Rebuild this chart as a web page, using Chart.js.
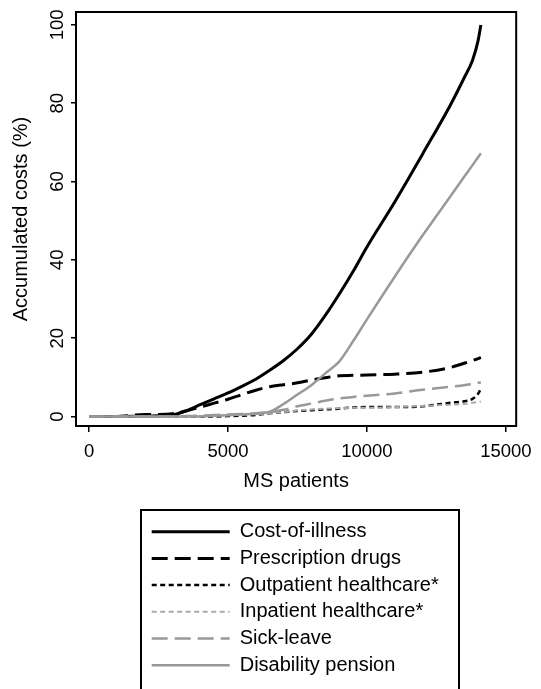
<!DOCTYPE html>
<html lang="en">
<head>
    <meta charset="UTF-8">
    <title>Accumulated costs by MS patients</title>
    <script src="https://cdn.jsdelivr.net/npm/chart.js@4.4.1/dist/chart.umd.min.js"></script>
    <style>
        body { margin: 0; background: #fff; }
        .chart-box { width: 541px; height: 689px; position: relative; }
    </style>
</head>
<body>
    <div class="chart-box"><canvas id="chart"></canvas></div>

    <script>
        // values
        const patients = [0, 1000, 2000, 2500, 3000, 3500, 4000, 4500, 5000, 5500, 6000, 6500, 7000,
                          7500, 8000, 8500, 9000, 9500, 10000, 11000, 12000, 13000, 13500, 13800, 14000, 14100];
        const costOfIllness = [0, 0, 0.1, 0.2, 0.4, 1.5, 3.0, 4.5, 6.0, 7.7, 9.5, 11.8, 14.3,
                               17.3, 21, 25.8, 31.2, 37, 43.3, 54.8, 67, 79.5, 86.5, 91, 96, 100];
        const prescriptionDrugs = [0, 0, 0.5, 0.5, 0.7, 1.4, 2.4, 3.4, 4.4, 5.6, 6.7, 7.6, 8.1,
                                   8.6, 9.3, 9.9, 10.4, 10.5, 10.6, 10.8, 11.3, 12.5, 13.6, 14.3, 14.8, 15.1];
        const outpatient = [0, 0, 0, 0, 0, 0, 0, 0, 0.1, 0.2, 0.4, 0.8, 1.1,
                            1.4, 1.6, 1.8, 2.0, 2.3, 2.4, 2.4, 2.6, 3.5, 3.9, 4.5, 5.8, 7.0];
        const inpatient = [0, 0, 0, 0, 0, 0, 0.1, 0.2, 0.3, 0.45, 0.6, 0.8, 1.1,
                           1.5, 1.8, 2.0, 2.1, 2.2, 2.2, 2.4, 2.7, 3.0, 3.2, 3.5, 3.7, 3.8];
        const sickLeave = [0, 0, 0, 0, 0, 0.1, 0.2, 0.35, 0.5, 0.65, 0.8, 1.1, 1.7,
                           2.6, 3.3, 4.0, 4.6, 5.0, 5.3, 5.9, 6.8, 7.6, 8.0, 8.3, 8.6, 8.7];
        const disabilityPension = [0, 0, 0, 0, 0, 0, 0, 0.2, 0.3, 0.5, 0.7, 1.2, 3.2,
                                   5.6, 8.0, 11.0, 14.0, 19.2, 24.8, 35.7, 46.2, 56.2, 61.2, 64.2, 66.2, 67.2];

        const xTicks = [0, 5000, 10000, 15000];
        const yTicks = [0, 20, 40, 60, 80, 100];

        const FONT = '"Liberation Sans", Arial, sans-serif';
        const toPoints = ys => patients.map((x, i) => ({ x: x, y: ys[i] }));

        const series = [
            { label: 'Cost-of-illness', data: costOfIllness, color: '#000', width: 3, dash: [] },
            { label: 'Prescription drugs', data: prescriptionDrugs, color: '#000', width: 3, dash: [16, 7] },
            { label: 'Outpatient healthcare*', data: outpatient, color: '#000', width: 2.5, dash: [5, 3.5] },
            { label: 'Inpatient healthcare*', data: inpatient, color: '#aaa', width: 2, dash: [5, 3.5] },
            { label: 'Sick-leave', data: sickLeave, color: '#999', width: 2.5, dash: [16, 7] },
            { label: 'Disability pension', data: disabilityPension, color: '#999', width: 2.5, dash: [] }
        ];

        // frame round the plot and round the legend, legend moved under the plot
        const framePlugin = {
            id: 'frame',
            afterLayout(chart) {
                const lg = chart.legend;
                lg.left = 145;
                lg.right = 455;
                lg.width = 310;
                lg.top = 515;
                lg.bottom = 515 + lg.height;
            },
            afterDraw(chart) {
                const { ctx, chartArea: a } = chart;
                ctx.save();
                ctx.strokeStyle = '#000';
                ctx.lineWidth = 2;
                ctx.strokeRect(a.left, a.top, a.right - a.left, a.bottom - a.top);
                ctx.strokeRect(141, 510, 318, 200);
                ctx.restore();
            }
        };

        new Chart(document.getElementById('chart'), {
            type: 'line',
            data: {
                datasets: series.map((s, i) => ({
                    label: s.label,
                    data: toPoints(s.data),
                    borderColor: s.color,
                    backgroundColor: s.color,
                    borderWidth: s.width,
                    borderDash: s.dash,
                    pointRadius: 0,
                    pointStyle: 'line',
                    cubicInterpolationMode: 'monotone',
                    order: series.length - 1 - i
                }))
            },
            options: {
                responsive: true,
                maintainAspectRatio: false,
                animation: false,
                layout: { padding: { left: 0, top: 12, right: 17, bottom: 25.8 } },
                plugins: {
                    tooltip: { enabled: false },
                    legend: {
                        position: 'bottom',
                        align: 'start',
                        fullSize: false,
                        maxWidth: 310,
                        labels: {
                            usePointStyle: true,
                            pointStyleWidth: 78,
                            padding: 6.7,
                            color: '#000',
                            font: { family: FONT, size: 20 },
                            sort: (a, b) => a.datasetIndex - b.datasetIndex,
                            generateLabels: chart => Chart.defaults.plugins.legend.labels.generateLabels(chart).map(item => {
                                const ds = chart.data.datasets[item.datasetIndex];
                                item.lineDash = ds.borderDash;
                                item.lineWidth = ds.borderWidth;
                                item.strokeStyle = ds.borderColor;
                                return item;
                            })
                        }
                    }
                },
                scales: {
                    x: {
                        type: 'linear',
                        min: -470,
                        max: 15371,
                        afterBuildTicks: s => { s.ticks = xTicks.map(v => ({ value: v })); },
                        afterFit: s => { s.height = 67; },
                        grid: { drawOnChartArea: false, tickLength: 6, color: '#000', lineWidth: 1.5 },
                        border: { color: '#000', width: 2 },
                        ticks: { color: '#000', padding: 9, maxRotation: 0, font: { family: FONT, size: 18.5 },
                                 callback: v => String(v) },
                        title: { display: true, text: 'MS patients', color: '#000',
                                 padding: { top: 0, bottom: 0 }, font: { family: FONT, size: 20 } }
                    },
                    y: {
                        min: -2.43,
                        max: 103.3,
                        afterBuildTicks: s => { s.ticks = yTicks.map(v => ({ value: v })); },
                        afterFit: s => { s.width = 76; },
                        grid: { drawOnChartArea: false, tickLength: 5, color: '#000', lineWidth: 1.5 },
                        border: { color: '#000', width: 2 },
                        ticks: { color: '#000', padding: -2, minRotation: 90, maxRotation: 90, crossAlign: 'center',
                                 font: { family: FONT, size: 18.5 }, callback: v => String(v) },
                        title: { display: true, text: 'Accumulated costs (%)', color: '#000',
                                 padding: { top: 9, bottom: 0 }, font: { family: FONT, size: 20 } }
                    }
                }
            },
            plugins: [framePlugin]
        });
    </script>
</body>
</html>
